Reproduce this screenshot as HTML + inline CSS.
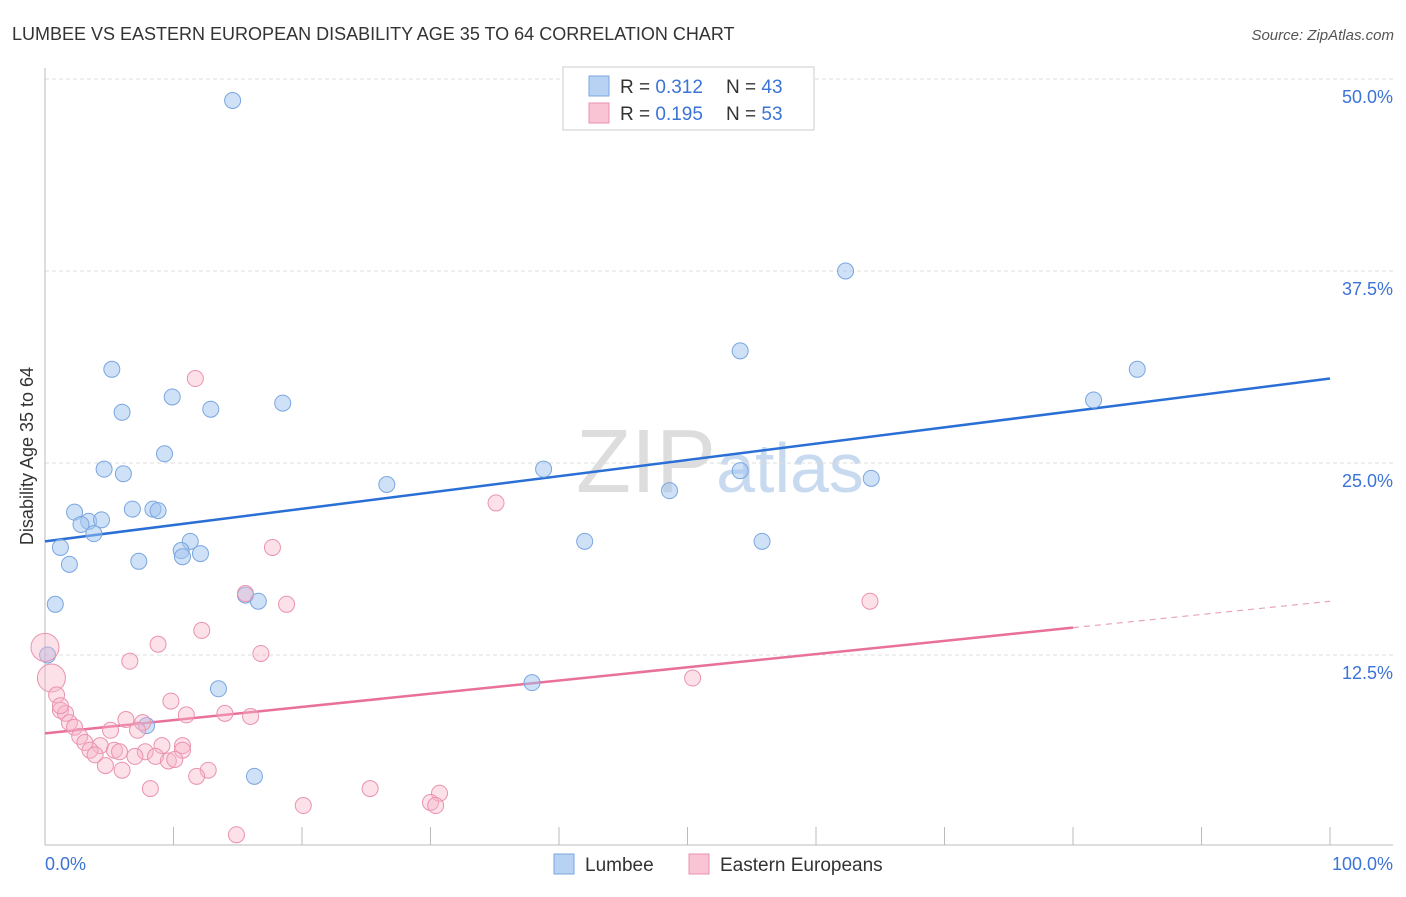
<!DOCTYPE html>
<html><head><meta charset="utf-8"><style>
body{margin:0;background:#fff;font-family:"Liberation Sans",sans-serif;}
svg text{font-family:"Liberation Sans",sans-serif;}
</style></head><body>
<svg id="chart" width="1406" height="892">
<text x="12" y="40" font-size="18" fill="#333">LUMBEE VS EASTERN EUROPEAN DISABILITY AGE 35 TO 64 CORRELATION CHART</text>
<text x="1394" y="40" font-size="15" fill="#555" text-anchor="end" font-style="italic">Source: ZipAtlas.com</text>
<text x="720" y="492" font-size="90" fill="#ddd" text-anchor="middle" font-family="Liberation Serif">ZIP<tspan fill="#c8daf0" font-family="Liberation Sans" font-size="70">atlas</tspan></text>
<g id="grid"></g><g id="axes"></g><g id="lines"></g><g id="pts"></g>
<text transform="translate(33,456) rotate(-90)" font-size="18" fill="#333" text-anchor="middle">Disability Age 35 to 64</text>
<text x="45" y="870" font-size="18" fill="#3b73d6">0.0%</text>
<text x="1393" y="870" font-size="18" fill="#3b73d6" text-anchor="end">100.0%</text>
<g>
<rect x="563" y="67" width="251" height="63" fill="#fff" stroke="#ccc"/>
<rect x="589" y="76" width="20" height="20" fill="#b8d2f4" stroke="#7aa6e0"/>
<rect x="589" y="103" width="20" height="20" fill="#f9c4d4" stroke="#ea92b0"/>
<text x="620" y="93" font-size="19" fill="#333">R = <tspan fill="#3b73d6">0.312</tspan><tspan x="726">N = </tspan><tspan fill="#3b73d6">43</tspan></text>
<text x="620" y="120" font-size="19" fill="#333">R = <tspan fill="#3b73d6">0.195</tspan><tspan x="726">N = </tspan><tspan fill="#3b73d6">53</tspan></text>
</g>
<g>
<rect x="554" y="854" width="20" height="20" fill="#b8d2f4" stroke="#7aa6e0"/>
<text x="585" y="871" font-size="19" fill="#333">Lumbee</text>
<rect x="689" y="854" width="20" height="20" fill="#f9c4d4" stroke="#ea92b0"/>
<text x="720" y="871" font-size="19" fill="#333">Eastern Europeans</text>
</g>
</svg>
<script>
const yTicks=[12.5,25,37.5,50];
const lumbeeX=[14.6,62.3,54.1,85.0,81.6,5.2,9.9,18.5,12.9,6.0,9.3,4.6,6.1,38.8,54.1,64.3,26.6,48.6,2.3,6.8,8.4,8.8,3.4,4.4,2.8,3.8,42.0,55.8,1.2,11.3,10.6,12.1,10.7,1.9,7.3,15.6,16.6,0.8,0.2,13.5,37.9,7.9,16.3];
const lumbeeY=[48.6,37.5,32.3,31.1,29.1,31.1,29.3,28.9,28.5,28.3,25.6,24.6,24.3,24.6,24.5,24.0,23.6,23.2,21.8,22.0,22.0,21.9,21.2,21.3,21.0,20.4,19.9,19.9,19.5,19.9,19.3,19.1,18.9,18.4,18.6,16.4,16.0,15.8,12.5,10.3,10.7,7.9,4.6];
const eastX=[11.7,35.1,17.7,15.6,18.8,64.2,12.2,8.8,0,16.8,6.6,0.5,50.4,0.9,9.8,1.2,1.6,11.0,14.0,16.0,6.3,1.9,2.3,7.6,5.1,7.2,2.7,3.1,9.1,10.7,4.3,3.5,5.4,5.8,3.9,7.8,10.7,8.6,7.0,9.6,10.1,4.7,6.0,12.7,11.8,8.2,25.3,30.7,30.0,20.1,30.4,14.9,1.2];
const eastY=[30.5,22.4,19.5,16.5,15.8,16.0,14.1,13.2,13.0,12.6,12.1,11.0,11.0,9.9,9.5,8.9,8.7,8.6,8.7,8.5,8.3,8.1,7.8,8.1,7.6,7.6,7.2,6.8,6.6,6.6,6.6,6.3,6.3,6.2,6.0,6.2,6.3,5.9,5.9,5.6,5.7,5.3,5.0,5.0,4.6,3.8,3.8,3.5,2.9,2.7,2.7,0.8,9.2];
const eastBig=[0,0,0,0,0,0,0,0,1,0,0,1];
const lumbeeTrend=[19.9,30.5];
const eastTrend=[7.4,16.0];
const eastSolidEnd=80;
const NS="http://www.w3.org/2000/svg";
const X=v=>45+v*12.85, Y=v=>847-v*15.36;
function mk(p,tag,a){const e=document.createElementNS(NS,tag);for(const k in a)e.setAttribute(k,a[k]);document.getElementById(p).appendChild(e);return e;}
yTicks.forEach(t=>{const l=mk('grid','line',{x1:45,x2:1393,y1:Y(t),y2:Y(t),stroke:'#ddd','stroke-dasharray':'4,3'});


const tx=mk('grid','text',{x:1393,y:Y(t)+24,'font-size':18,fill:'#3b73d6','text-anchor':'end'});tx.textContent=t.toFixed(1)+'%';

});
mk('axes','line',{x1:45,x2:45,y1:68,y2:845,stroke:'#bbb'});
mk('axes','line',{x1:45,x2:1393,y1:845,y2:845,stroke:'#bbb'});
for(let i=1;i<=10;i++){const t=mk('axes','line',{x1:X(i*10),x2:X(i*10),y1:827,y2:845,stroke:'#bbb'});

}
const tb=mk('lines','line',{x1:X(0),y1:Y(lumbeeTrend[0]),x2:X(100),y2:Y(lumbeeTrend[1]),stroke:'#2a6fd6','stroke-width':2.5});


const ye=eastTrend[0]+(eastTrend[1]-eastTrend[0])*eastSolidEnd/100;
const tp=mk('lines','line',{x1:X(0),y1:Y(eastTrend[0]),x2:X(eastSolidEnd),y2:Y(ye),stroke:'#e8709a','stroke-width':2.5});


const td=mk('lines','line',{x1:X(eastSolidEnd),y1:Y(ye),x2:X(100),y2:Y(eastTrend[1]),stroke:'#e8a0b8','stroke-width':1.2,'stroke-dasharray':'6,5'});


lumbeeX.forEach((v,i)=>{const c=mk('pts','circle',{cx:X(v),cy:Y(lumbeeY[i]),r:8,fill:'rgba(160,195,240,0.5)',stroke:'#7aa6e0','stroke-width':1});

});
eastX.forEach((v,i)=>{const c=mk('pts','circle',{cx:X(v),cy:Y(eastY[i]),r:eastBig[i]?14:8,fill:'rgba(248,180,200,0.4)',stroke:'#ea92b0','stroke-width':1});

});
</script>
</body></html>
